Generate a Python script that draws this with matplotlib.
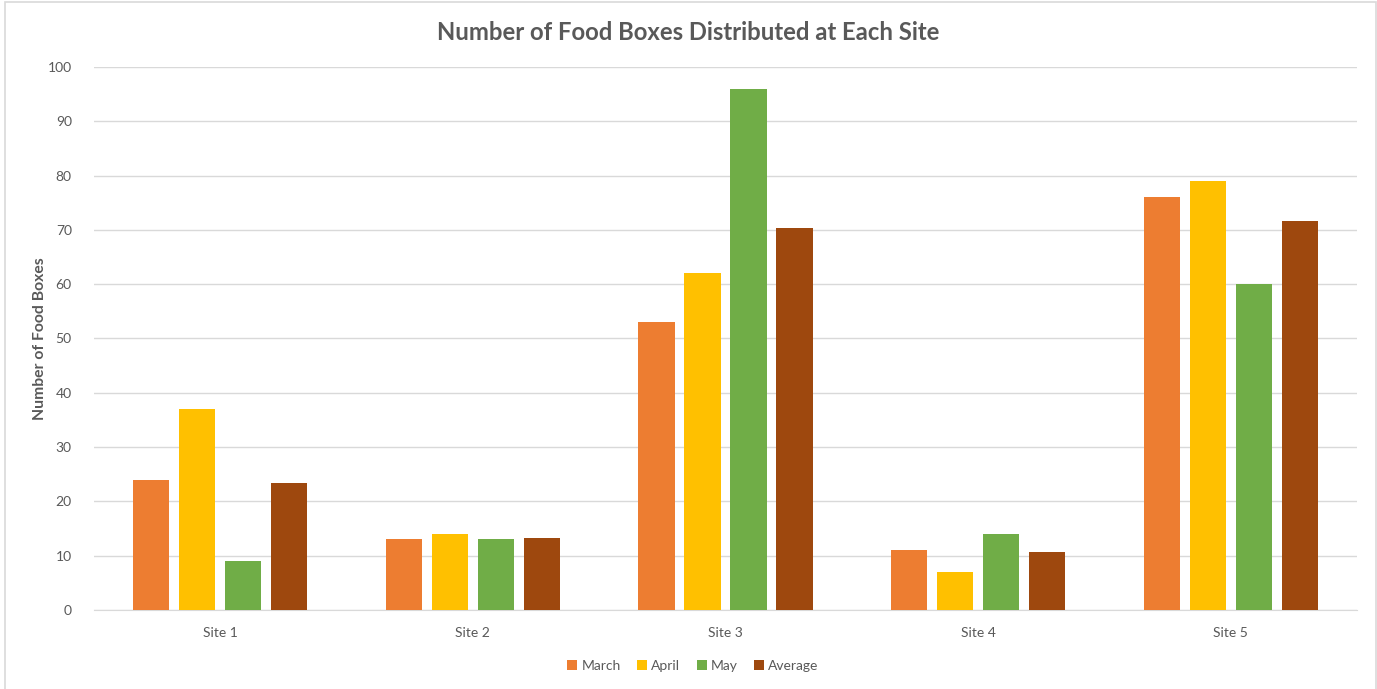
import matplotlib
matplotlib.use("Agg")
import matplotlib.pyplot as plt
import numpy as np
from matplotlib.patches import Rectangle

sites = ["Site 1", "Site 2", "Site 3", "Site 4", "Site 5"]
march = [24, 13, 53, 11, 76]
april = [37, 14, 62, 7, 79]
may = [9, 13, 96, 14, 60]
average = [23.33, 13.33, 70.33, 10.67, 71.67]
series_names = ["March", "April", "May", "Average"]
colors = ["#ED7D31", "#FFC000", "#70AD47", "#9E480E"]
yticks = list(range(0, 101, 10))

plt.rcParams['font.family'] = ['Lato', 'DejaVu Sans']
txt = "#595959"

fig = plt.figure(figsize=(13.77, 6.89), dpi=100)
fig.patches.append(Rectangle((5/1377, -0.01), 1371/1377, 1 - 2/689 + 0.01,
                             transform=fig.transFigure, fill=False,
                             edgecolor="#D9D9D9", linewidth=1.2))
ax = fig.add_axes([94/1377, 1 - 610/689, (1357 - 94)/1377, (610 - 67)/689])

x = np.arange(len(sites))
width = 0.143
step = 0.182
data = [march, april, may, average]
for i, (vals, name, c) in enumerate(zip(data, series_names, colors)):
    ax.bar(x + (i - 1.5) * step, vals, width, color=c, label=name, zorder=3)

ax.set_xlim(-0.5, len(sites) - 0.5)
ax.set_ylim(0, 100)
ax.set_yticks(yticks)
ax.set_xticks(x)
ax.set_xticklabels(sites)
ax.grid(axis="y", color="#D9D9D9", linewidth=1, zorder=0)
for s in ["top", "right", "left"]:
    ax.spines[s].set_visible(False)
ax.spines["bottom"].set_color("#D9D9D9")
ax.tick_params(axis="both", length=0, colors=txt, labelsize=10)
ax.tick_params(axis="y", pad=16)
ax.tick_params(axis="x", pad=12)

ax.set_ylabel("Number of Food Boxes", fontsize=11.3, fontweight="bold", color=txt)
ax.yaxis.set_label_coords((47 - 94) / 1263, 0.5)
fig.text(0.5, 1 - 32/689, "Number of Food Boxes Distributed at Each Site",
         ha="center", va="center", fontsize=17.2, fontweight="bold", color=txt)

leg = fig.legend(loc="center", bbox_to_anchor=(693/1377, 1 - 666/689), ncol=4,
                 frameon=False, fontsize=10, handlelength=0.7, handleheight=0.7,
                 handletextpad=0.3, columnspacing=1.2)
for t in leg.get_texts():
    t.set_color(txt)

fig.savefig("out.png", dpi=100)
